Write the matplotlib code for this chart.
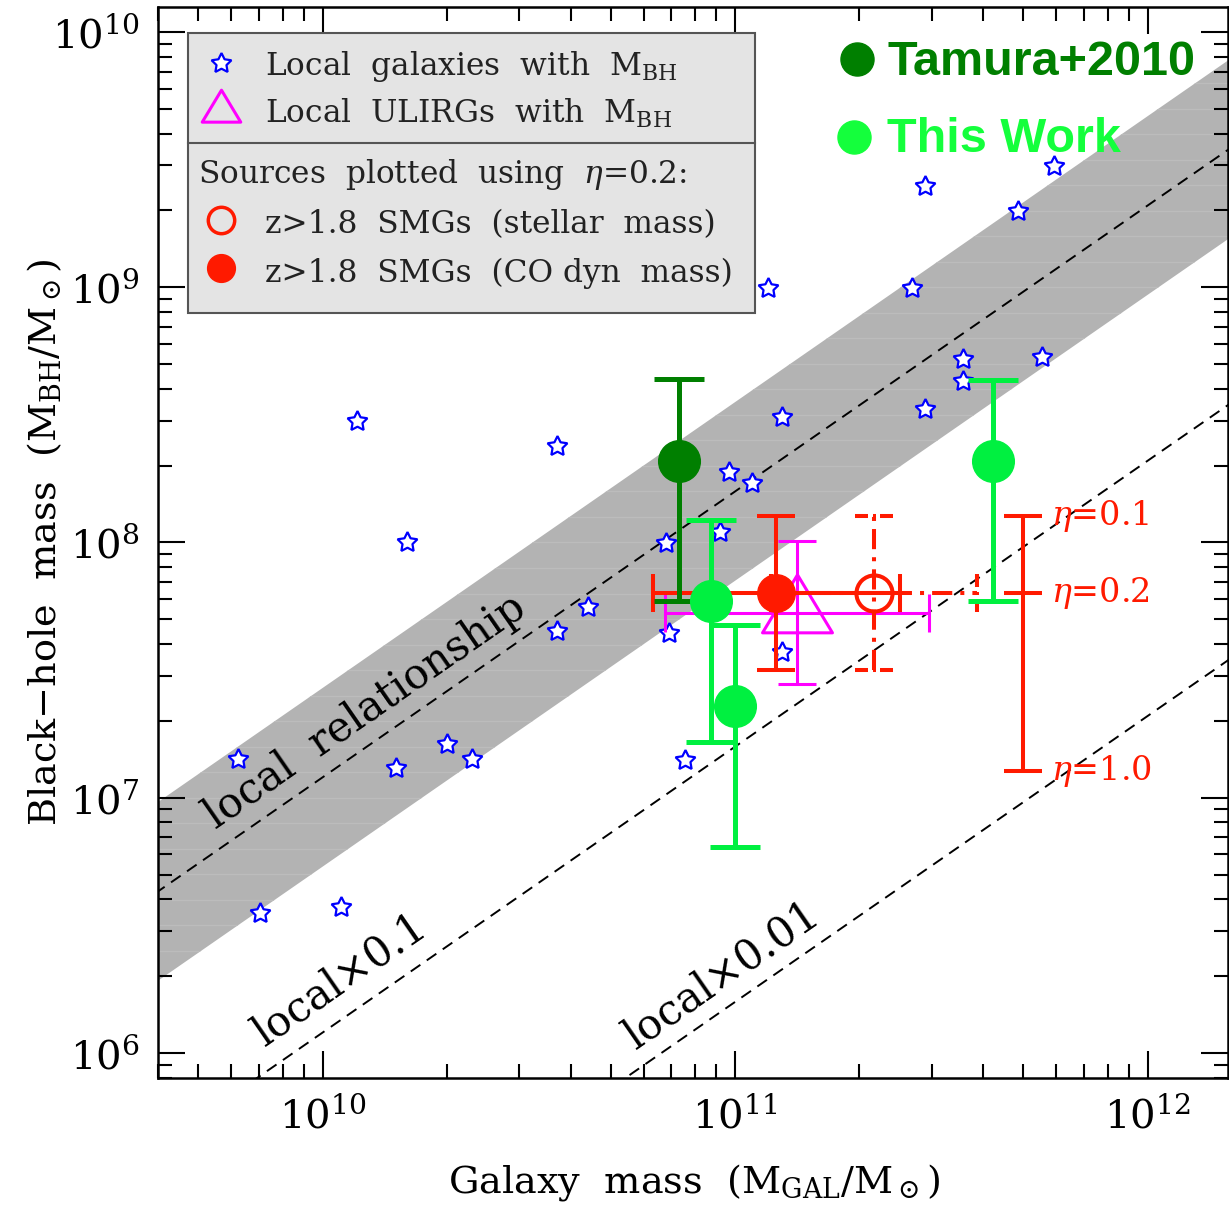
import numpy as np
import matplotlib.pyplot as plt
from matplotlib import ticker, rcParams
from matplotlib.path import Path
from matplotlib.markers import MarkerStyle
from matplotlib.patches import Rectangle

rcParams['font.family'] = 'DejaVu Serif'
rcParams['mathtext.fontset'] = 'dejavuserif'

# ---- data ----
# local galaxies with measured black holes (galaxy mass, BH mass)
local_mgal = [6.24e9, 7.05e9, 1.11e10, 1.21e10, 1.51e10, 1.60e10, 2.00e10, 2.30e10,
              3.70e10, 3.70e10, 4.40e10, 6.81e10, 6.92e10, 7.57e10, 9.20e10, 9.67e10,
              1.10e11, 1.20e11, 1.30e11, 1.30e11, 2.69e11, 2.89e11, 2.89e11, 3.57e11,
              3.57e11, 4.86e11, 5.55e11, 5.93e11]
local_mbh = [1.42e7, 3.53e6, 3.73e6, 2.99e8, 1.31e7, 1.00e8, 1.62e7, 1.42e7,
             4.50e7, 2.39e8, 5.59e7, 9.96e7, 4.42e7, 1.41e7, 1.10e8, 1.89e8,
             1.71e8, 9.93e8, 3.10e8, 3.72e7, 9.93e8, 2.49e9, 3.33e8, 5.24e8,
             4.30e8, 1.99e9, 5.33e8, 2.99e9]

# local relationship  log MBH = a + b (log Mgal - 11), +/- scatter (dex)
rel_a, rel_b, rel_scatter = 8.20, 1.12, 0.35
rel_factors = [1.0, 0.1, 0.01]

# local ULIRGs (errors in dex)
ulirg_mgal, ulirg_mbh = 1.41e11, 5.30e7
ulirg_xerr_dex, ulirg_yerr_dex = 0.32, 0.28

# z>1.8 SMGs at eta=0.2
smg_mbh = 6.34e7
smg_co_mgal, smg_co_xerr_dex = 1.26e11, 0.30
smg_star_mgal, smg_star_xerr_dex = 2.17e11, 0.25
smg_yerr_dex = 0.30

# eta scaling bar
eta_vals = [0.1, 0.2, 1.0]
eta_ref = 0.2
eta_mgal = 5.0e11
eta_mbh = [smg_mbh * eta_ref / e for e in eta_vals]

# Tamura+2010
tam_mgal, tam_mbh, tam_hi, tam_lo = 7.31e10, 2.08e8, 4.37e8, 5.90e7

# This work
tw_mgal = [8.75e10, 1.00e11, 4.22e11]
tw_mbh = [5.90e7, 2.29e7, 2.08e8]
tw_hi = [1.22e8, 4.75e7, 4.33e8]
tw_lo = [1.65e7, 6.41e6, 5.90e7]

red = '#ff1a00'
magenta = '#ff00ff'
dkgreen = '#007f00'
ltgreen = '#00f040'

fig = plt.figure(figsize=(12.29, 12.07), dpi=100)
ax = fig.add_axes([0.1286, 0.1069, 0.8706, 0.8873])
ax.set_xscale('log')
ax.set_yscale('log')
ax.set_xlim(3.99e9, 1.567e12)
ax.set_ylim(7.98e5, 1.253e10)

# local relationship band + dashed lines
mg = np.logspace(9.4, 12.4, 200)
rel = 10**(rel_a + rel_b * (np.log10(mg) - 11))
band = ax.fill_between(mg, rel * 10**-rel_scatter, rel * 10**rel_scatter,
                       color='#b3b3b3', lw=0, zorder=0.5)
for yy in 10**np.arange(5.9, 10.2, 0.1):
    ln, = ax.plot([mg[0], mg[-1]], [yy, yy], color='#bcbcbc', lw=1.0, zorder=0.6)
    ln.set_clip_path(band.get_paths()[0], ax.transData)
for f in rel_factors:
    ax.plot(mg, rel * f, color='k', lw=1.4, ls=(0, (6, 4)), zorder=1)

ax.text(10**10.103, 10**7.336, 'local  relationship', rotation=34.7,
        rotation_mode='anchor', ha='center', va='center', fontsize=30, zorder=2)
ax.text(10**10.042, 10**6.286, 'local×0.1', rotation=34.7,
        rotation_mode='anchor', ha='center', va='center', fontsize=30)
ax.text(10**10.968, 10**6.306, 'local×0.01', rotation=34.7,
        rotation_mode='anchor', ha='center', va='center', fontsize=30)

# local galaxies
star = (5, 1, 0)
ax.plot(local_mgal, local_mbh, ls='none', marker=star, ms=15, mfc='white',
        mec='blue', mew=1.6, zorder=2)

# ULIRG
tri = MarkerStyle(Path([(0, 1), (-0.904, -0.5), (0.904, -0.5), (0, 1)],
                       [Path.MOVETO, Path.LINETO, Path.LINETO, Path.CLOSEPOLY]))
ax.errorbar(ulirg_mgal, ulirg_mbh,
            xerr=[[ulirg_mgal * (1 - 10**-ulirg_xerr_dex)], [ulirg_mgal * (10**ulirg_xerr_dex - 1)]],
            yerr=[[ulirg_mbh * (1 - 10**-ulirg_yerr_dex)], [ulirg_mbh * (10**ulirg_yerr_dex - 1)]],
            fmt='none', ecolor=magenta, elinewidth=2.2, capsize=14, capthick=2.2, zorder=3)
ax.plot(ulirg_mgal, ulirg_mbh, ls='none', marker=tri, ms=55.7, mfc='none',
        mec=magenta, mew=2.2, zorder=3)

# SMG stellar mass (dash-dot error bars)
dd = (0, (5, 2, 1, 2))
eb = ax.errorbar(smg_star_mgal, smg_mbh,
                 xerr=[[smg_star_mgal * (1 - 10**-smg_star_xerr_dex)], [smg_star_mgal * (10**smg_star_xerr_dex - 1)]],
                 yerr=[[smg_mbh * (1 - 10**-smg_yerr_dex)], [smg_mbh * (10**smg_yerr_dex - 1)]],
                 fmt='none', ecolor=red, elinewidth=2.9, capsize=0, zorder=4)
for c in eb[2]:
    c.set_linestyle(dd)
cap_codes = [Path.MOVETO, Path.LINETO] * 3
hcap = MarkerStyle(Path([(-1, 0), (-0.3, 0), (-0.08, 0), (0.08, 0), (0.3, 0), (1, 0)], cap_codes))
vcap = MarkerStyle(Path([(0, -1), (0, -0.3), (0, -0.08), (0, 0.08), (0, 0.3), (0, 1)], cap_codes))
ax.plot([smg_star_mgal] * 2, [smg_mbh * 10**-smg_yerr_dex, smg_mbh * 10**smg_yerr_dex],
        ls='none', marker=hcap, ms=27, mec=red, mew=2.9, zorder=4)
ax.plot([smg_star_mgal * 10**-smg_star_xerr_dex, smg_star_mgal * 10**smg_star_xerr_dex], [smg_mbh] * 2,
        ls='none', marker=vcap, ms=27, mec=red, mew=2.9, zorder=4)
ax.plot(smg_star_mgal, smg_mbh, 'o', ms=26, mfc='none', mec=red, mew=2.9, zorder=4)

# SMG CO dynamical mass
ax.errorbar(smg_co_mgal, smg_mbh,
            xerr=[[smg_co_mgal * (1 - 10**-smg_co_xerr_dex)], [smg_co_mgal * (10**smg_co_xerr_dex - 1)]],
            yerr=[[smg_mbh * (1 - 10**-smg_yerr_dex)], [smg_mbh * (10**smg_yerr_dex - 1)]],
            fmt='o', ms=27, color=red, mec=red, elinewidth=2.9, capsize=14,
            capthick=2.9, zorder=4.5)

# eta scaling bar
ax.errorbar(eta_mgal, eta_mbh[1], yerr=[[eta_mbh[1] - eta_mbh[2]], [eta_mbh[0] - eta_mbh[1]]],
            fmt='_', ms=28, mew=2.9, color=red, elinewidth=2.9, capsize=14,
            capthick=2.9, zorder=4)
for e, m in zip(eta_vals, eta_mbh):
    ax.annotate(f'$\\eta$={e}', xy=(eta_mgal, m), xytext=(20, 0),
                textcoords='offset points', va='center', color=red, fontsize=24)

# Tamura+2010
ax.errorbar(tam_mgal, tam_mbh, yerr=[[tam_mbh - tam_lo], [tam_hi - tam_mbh]],
            fmt='o', ms=30, color=dkgreen, elinewidth=3.6, capsize=18, capthick=3.6, zorder=5)

# This work
ax.errorbar(tw_mgal, tw_mbh,
            yerr=[np.subtract(tw_mbh, tw_lo), np.subtract(tw_hi, tw_mbh)],
            fmt='o', ms=30, color=ltgreen, elinewidth=3.6, capsize=18, capthick=3.6,
            ls='none', zorder=6)

# legend box (drawn by hand)
ax.add_patch(Rectangle((0.028, 0.7143), 0.530, 0.2614, transform=ax.transAxes,
                       fc='#e4e4e4', ec='#555555', lw=1.5, zorder=10))
ax.plot([0.028, 0.558], [0.873, 0.873], transform=ax.transAxes, color='#555555',
        lw=1.5, zorder=11)
ax.plot(0.0589, 0.9477, ls='none', marker=star, ms=15, mfc='white', mec='blue', mew=1.6,
        transform=ax.transAxes, zorder=11)
ax.plot(0.0589, 0.9029, ls='none', marker=tri, ms=30.7, mfc='none', mec=magenta, mew=2.2,
        transform=ax.transAxes, zorder=11)
ax.plot(0.0589, 0.8011, 'o', ms=19, mfc='none', mec=red, mew=2.5,
        transform=ax.transAxes, zorder=11)
ax.plot(0.0589, 0.7563, 'o', ms=20, color=red, transform=ax.transAxes, zorder=11)
leg_items = [(0.100, 0.9365, 'Local  galaxies  with  M$_\\mathrm{BH}$'),
             (0.100, 0.8917, 'Local  ULIRGs  with  M$_\\mathrm{BH}$'),
             (0.0374, 0.8357, 'Sources  plotted  using  $\\eta$=0.2:'),
             (0.100, 0.7890, 'z>1.8  SMGs  (stellar  mass)'),
             (0.100, 0.7432, 'z>1.8  SMGs  (CO dyn  mass)')]
for lx, ly, s in leg_items:
    ax.text(lx, ly, s, transform=ax.transAxes, fontsize=22.5, va='baseline',
            color='#222222', zorder=12)

# top-right labels
ax.plot(0.6533, 0.9514, 'o', ms=23.8, color=dkgreen, transform=ax.transAxes, zorder=12)
ax.text(0.6822, 0.9365, 'Tamura+2010', transform=ax.transAxes, color=dkgreen,
        fontsize=35, fontweight='bold', family='Liberation Sans', va='baseline', zorder=12)
ax.plot(0.6505, 0.8786, 'o', ms=23.8, color='#14ff3c', transform=ax.transAxes, zorder=12)
ax.text(0.6813, 0.8646, 'This Work', transform=ax.transAxes, color='#14ff3c',
        fontsize=35, fontweight='bold', family='Liberation Sans', va='baseline', zorder=12)

# axes styling
ax.xaxis.set_minor_locator(ticker.LogLocator(base=10, subs=np.arange(2, 10) * 1.0, numticks=30))
ax.yaxis.set_minor_locator(ticker.LogLocator(base=10, subs=np.arange(2, 10) * 1.0, numticks=30))
ax.xaxis.set_minor_formatter(ticker.NullFormatter())
ax.yaxis.set_minor_formatter(ticker.NullFormatter())
ax.tick_params(which='both', direction='in', top=True, right=True, width=1.5,
               labelsize=29, pad=13)
ax.tick_params(which='major', length=19.5)
ax.tick_params(which='minor', length=10)
for sp in ax.spines.values():
    sp.set_linewidth(1.8)

ax.set_xlabel('Galaxy  mass  (M$_\\mathrm{GAL}$/M$_\\odot$)', fontsize=27.5)
ax.set_ylabel('Black−hole  mass  (M$_\\mathrm{BH}$/M$_\\odot$)', fontsize=27.5)
ax.xaxis.set_label_coords(0.501, -0.078)
ax.yaxis.set_label_coords(-0.088, 0.5)

fig.savefig('out.png', dpi=100)
